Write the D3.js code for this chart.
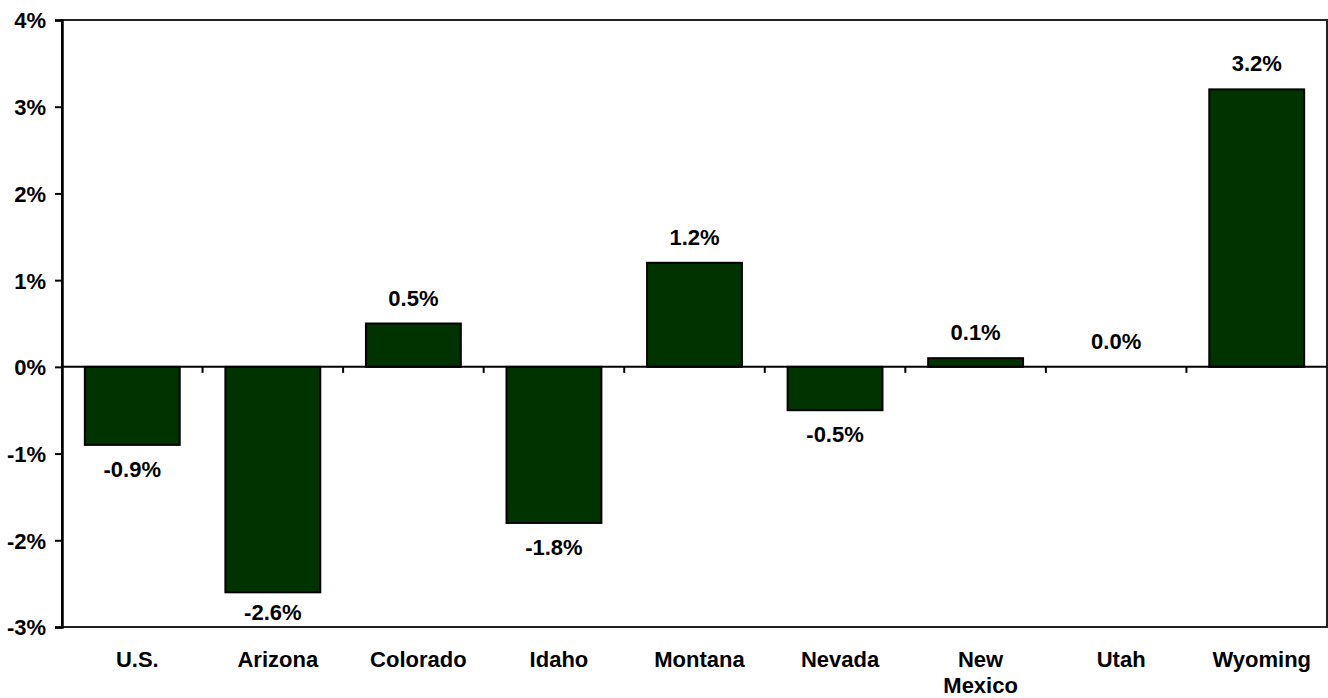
<!DOCTYPE html>
<html>
<head>
<meta charset="utf-8">
<script src="https://cdn.jsdelivr.net/npm/d3@7"></script>
<style>
	html, body { margin: 0; padding: 0; background: #fff; }
	svg { display: block; }
	text { font-family: Arial, "Liberation Sans", sans-serif; font-weight: bold; fill: #000; }
</style>
</head>
<body>
<svg id="chart" width="1328" height="698"></svg>
<script>
// values (percent change)
const states = ['U.S.', 'Arizona', 'Colorado', 'Idaho', 'Montana', 'Nevada', 'New Mexico', 'Utah', 'Wyoming']
const changes = [-0.9, -2.6, 0.5, -1.8, 1.2, -0.5, 0.1, 0.0, 3.2]
const yTicks = [-3, -2, -1, 0, 1, 2, 3, 4]

const svg = d3.select('#chart')
const plot = { left: 62, right: 1327, top: 20, bottom: 627 }

const x = d3.scaleBand()
	.domain(states)
	.range([plot.left, plot.right])
	.paddingInner(0.325)
	.paddingOuter(0.1625)

const y = d3.scaleLinear()
	.domain([-3, 4])
	.range([plot.bottom, plot.top])

const fontSize = 22
const cx = (d) => x(d) + x.bandwidth() / 2

// frame
svg.append('rect')
	.attr('x', plot.left)
	.attr('y', plot.top)
	.attr('width', plot.right - plot.left)
	.attr('height', plot.bottom - plot.top)
	.attr('fill', 'none')
	.attr('stroke', '#222')
	.attr('stroke-width', 2)

// bars
svg.selectAll('.bar')
	.data(states)
	.enter()
	.append('rect')
		.attr('class', 'bar')
		.attr('x', (d) => x(d))
		.attr('width', x.bandwidth())
		.attr('y', (d, i) => y(Math.max(0, changes[i])))
		.attr('height', (d, i) => Math.abs(y(changes[i]) - y(0)))
		.attr('fill', '#003300')
		.attr('stroke', '#000')
		.attr('stroke-width', 2)

// zero line with category dividers hanging below it
svg.append('line')
	.attr('x1', plot.left)
	.attr('x2', plot.right)
	.attr('y1', y(0))
	.attr('y2', y(0))
	.attr('stroke', '#000')
	.attr('stroke-width', 2)

const step = x.step()
svg.selectAll('.divider')
	.data(d3.range(1, states.length))
	.enter()
	.append('line')
		.attr('class', 'divider')
		.attr('x1', (k) => plot.left + k * step)
		.attr('x2', (k) => plot.left + k * step)
		.attr('y1', y(0))
		.attr('y2', y(0) + 6)
		.attr('stroke', '#000')
		.attr('stroke-width', 2)

// y axis
const yAxis = svg.append('g')
	.attr('transform', `translate(${plot.left},0)`)
	.call(d3.axisLeft(y)
		.tickValues(yTicks)
		.tickFormat((d) => d + '%')
		.tickSize(7)
		.tickPadding(9))
yAxis.select('.domain')
	.attr('stroke', '#000')
	.attr('stroke-width', 2.5)
yAxis.selectAll('.tick line')
	.attr('stroke', '#000')
	.attr('stroke-width', 2)
yAxis.selectAll('.tick text')
	.style('font-size', fontSize + 'px')
	.style('font-family', 'Arial, "Liberation Sans", sans-serif')
	.style('font-weight', 'bold')
	.attr('dy', '0.36em')

// value labels
svg.selectAll('.value')
	.data(states)
	.enter()
	.append('text')
		.attr('class', 'value')
		.attr('text-anchor', 'middle')
		.style('font-size', fontSize + 'px')
		.attr('x', cx)
		.attr('y', (d, i) => {
			const v = changes[i]
			if (v >= 0) return y(v) - 18
			return Math.min(y(v) + 32, plot.bottom - 7)
		})
		.text((d, i) => changes[i].toFixed(1) + '%')

// category labels, "New Mexico" wraps to two lines
// (the original sits a few px right of the band centre)
svg.selectAll('.cat')
	.data(states)
	.enter()
	.append('text')
		.attr('class', 'cat')
		.attr('text-anchor', 'middle')
		.style('font-size', fontSize + 'px')
		.attr('x', (d) => cx(d) + 5)
		.attr('y', 667)
		.each(function (d) {
			const words = d === 'New Mexico' ? ['New', 'Mexico'] : [d]
			d3.select(this).selectAll('tspan')
				.data(words)
				.enter()
				.append('tspan')
					.attr('x', cx(d) + 5)
					.attr('dy', (w, i) => i === 0 ? 0 : 26)
					.text((w) => w)
		})
</script>
</body>
</html>
